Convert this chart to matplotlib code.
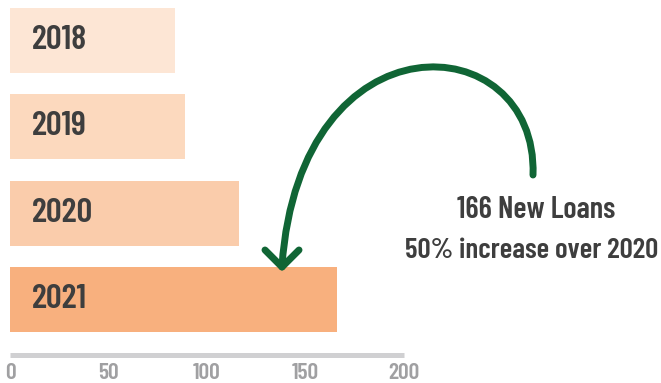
import matplotlib
matplotlib.use("Agg")
import matplotlib.pyplot as plt
from matplotlib.path import Path
from matplotlib.patches import PathPatch
from matplotlib.lines import Line2D

# loans per year
years = ["2018", "2019", "2020", "2021"]
loans = [84, 89, 116, 166]
bar_colors = ["#FDE6D5", "#FCD9BE", "#FACCAB", "#F8B07E"]
ticks = [0, 50, 100, 150, 200]

note_line1 = "166 New Loans"
note_line2 = "50% increase over 2020"

plt.rcParams["font.family"] = ["Barlow Condensed", "DejaVu Sans"]

W, H = 661, 383
fig = plt.figure(figsize=(W / 100, H / 100), dpi=100)
ax = fig.add_axes([10 / W, (H - 354.5) / H, 1 - 10 / W, 354.5 / H])

ax.barh(range(len(years)), loans, height=0.75, color=bar_colors)
for i, y in enumerate(years):
    ax.text(11, i, y, ha="left", va="center", fontsize=25,
            fontweight=600, color="#3E3E3E")

ax.set_xlim(0, 651 / 1.97)
ax.set_ylim(-0.469 + 354.5 / 86.33, -0.469)

for s in ["top", "right", "left"]:
    ax.spines[s].set_visible(False)
ax.spines["bottom"].set_bounds(0, 200)
ax.spines["bottom"].set_linewidth(3.6)
ax.spines["bottom"].set_color("#D0D0D2")
ax.spines["bottom"].set_capstyle("butt")
ax.set_yticks([])
ax.set_xticks(ticks)
ax.tick_params(axis="x", length=0, pad=6, labelsize=17, labelcolor="#A0A0A2")
for lab in ax.get_xticklabels():
    lab.set_fontweight(600)

# callout arrow, in pixel positions from top-left
def fpos(x, y):
    return (x / W, 1 - y / H)

green = "#106535"
verts = [fpos(533, 175), fpos(538, 25), fpos(300, 10), fpos(282, 266)]
curve = Path(verts, [Path.MOVETO, Path.CURVE4, Path.CURVE4, Path.CURVE4])
fig.add_artist(PathPatch(curve, transform=fig.transFigure, fill=False,
                         edgecolor=green, linewidth=5, capstyle="round"))
for ex in (265, 299):
    a, b = fpos(ex, 250), fpos(282, 267)
    fig.add_artist(Line2D([a[0], b[0]], [a[1], b[1]], transform=fig.transFigure,
                          color=green, linewidth=5, solid_capstyle="round"))

fig.text(536 / W, 1 - 210 / H, note_line1, ha="center", va="center",
         fontsize=22, fontweight=600, color="#3E3E3E")
fig.text(532 / W, 1 - 250 / H, note_line2, ha="center", va="center",
         fontsize=21, fontweight=600, color="#3E3E3E")

fig.savefig("out.png", dpi=100)
